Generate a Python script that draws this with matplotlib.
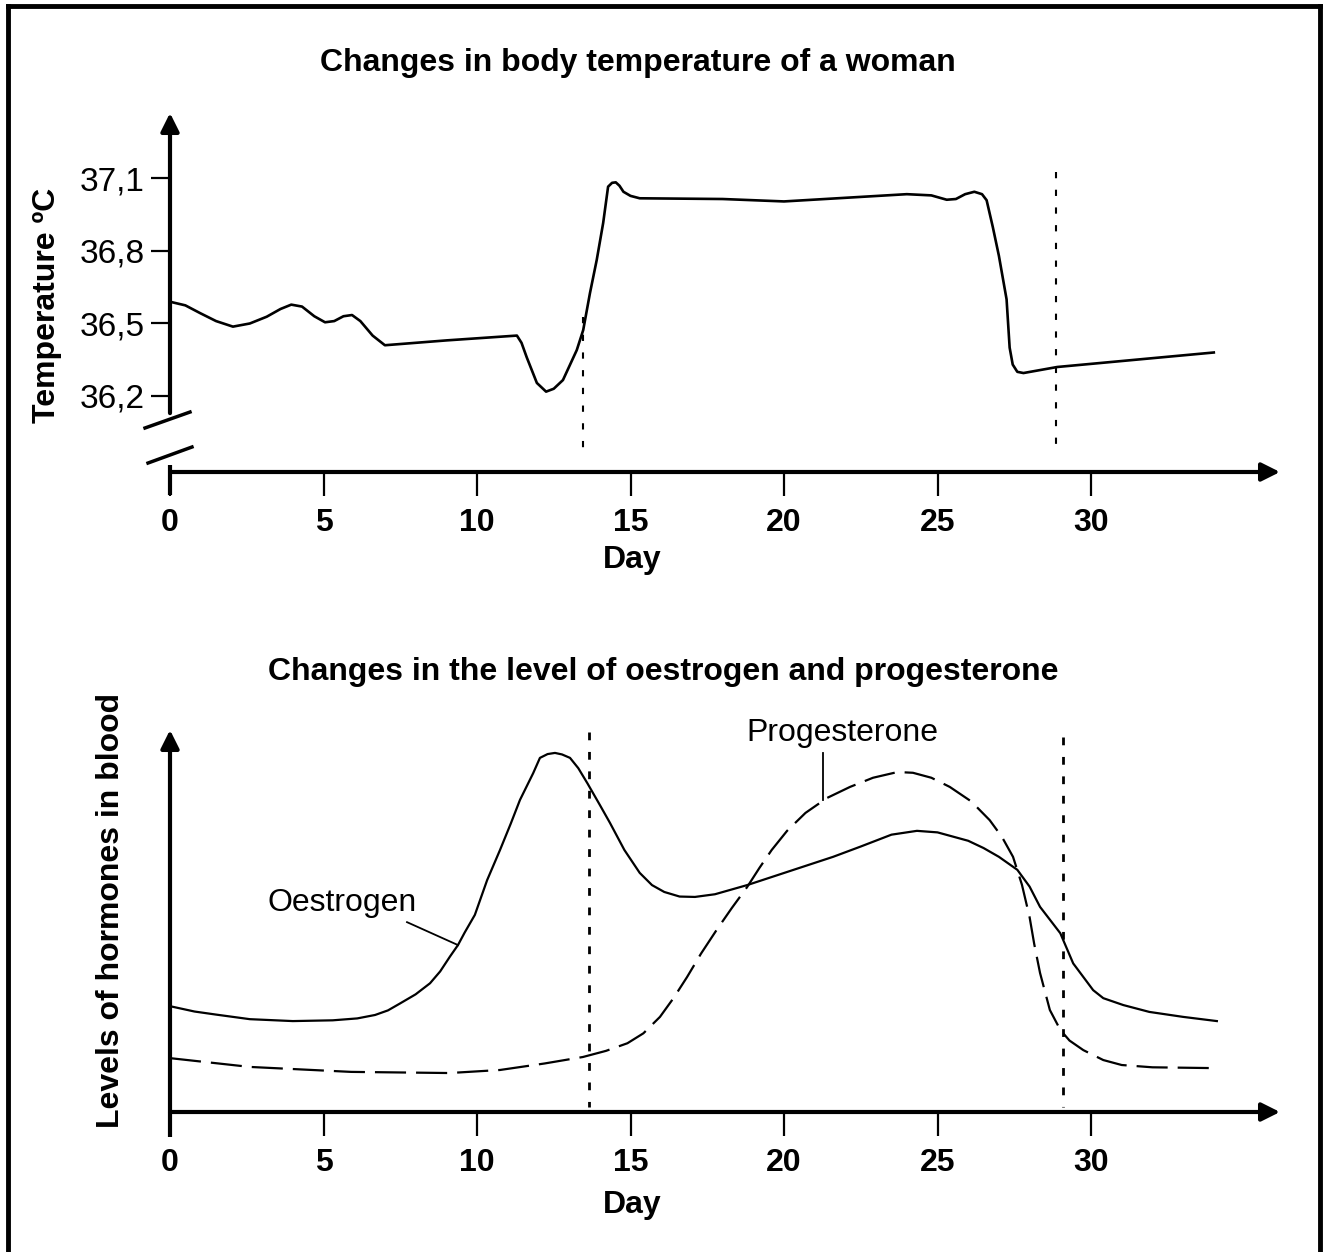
import numpy as np
import matplotlib.pyplot as plt
from matplotlib.lines import Line2D

plt.rcParams['font.family'] = ['Liberation Sans', 'DejaVu Sans']

# ---------------- data ----------------
# body temperature (day, degC)
temp_day = [0.0, 0.5, 0.98, 1.5, 2.05, 2.6, 3.15, 3.6, 3.95, 4.3, 4.7, 5.05, 5.35, 5.65,
            5.93, 6.2, 6.6, 7.0, 9.0, 11.3, 11.45, 11.62, 11.95, 12.25, 12.5, 12.8, 13.25,
            13.46, 13.68, 13.9, 14.11, 14.27, 14.4, 14.52, 14.64, 14.77, 15.0, 15.3, 18.0,
            20.0, 22.0, 24.0, 24.8, 25.3, 25.6, 25.9, 26.2, 26.45, 26.6, 26.8, 27.0, 27.25,
            27.35, 27.45, 27.6, 27.8, 28.9, 34.0]
temp_val = [36.59, 36.575, 36.543, 36.51, 36.487, 36.5, 36.528, 36.56, 36.578, 36.57,
            36.53, 36.505, 36.51, 36.53, 36.535, 36.51, 36.45, 36.41, 36.43, 36.45, 36.42,
            36.36, 36.254, 36.218, 36.23, 36.266, 36.39, 36.473, 36.626, 36.763, 36.916,
            37.066, 37.082, 37.084, 37.07, 37.045, 37.028, 37.018, 37.015, 37.005, 37.02,
            37.035, 37.03, 37.012, 37.015, 37.035, 37.045, 37.035, 37.01, 36.9, 36.78, 36.6,
            36.4, 36.33, 36.30, 36.295, 36.32, 36.38]
temp_ticks = [36.2, 36.5, 36.8, 37.1]
temp_ticklabels = ['36,2', '36,5', '36,8', '37,1']

# hormone levels (arbitrary units 0-100)
oes_day = [0.0, 0.8, 1.5, 2.6, 4.0, 5.3, 6.1, 6.68, 7.1, 7.49, 8.0, 8.47, 8.8, 9.12, 9.38,
           9.6, 9.93, 10.33, 10.75, 11.1, 11.4, 11.83, 12.05, 12.3, 12.54, 12.77, 13.03,
           13.3, 13.6, 14.0, 14.33, 14.8, 15.3, 15.7, 16.1, 16.6, 17.1, 17.75, 18.8, 21.6,
           22.5, 23.5, 24.33, 25.0, 26.0, 26.5, 27.0, 27.6, 28.0, 28.34, 29.0, 29.42, 30.07,
           30.4, 31.05, 31.9, 33.0, 34.1]
oes_val = [27.7, 26.3, 25.5, 24.3, 23.8, 24.0, 24.5, 25.4, 26.6, 28.4, 30.8, 33.7, 36.8,
           40.7, 43.7, 47.0, 51.6, 60.7, 68.6, 75.5, 81.7, 88.7, 92.7, 93.7, 94.0, 93.6,
           92.7, 90.0, 86.0, 80.4, 75.7, 68.6, 62.6, 59.4, 57.6, 56.4, 56.3, 57.0, 59.4, 66.8,
           69.5, 72.6, 73.6, 73.2, 71.0, 69.1, 66.8, 63.4, 59.0, 53.7, 46.8, 38.9, 31.9,
           29.8, 28.0, 26.2, 24.9, 23.8]
prog_day = [0.0, 2.6, 5.9, 9.1, 10.75, 12.2, 13.45, 14.2, 14.9, 15.42, 15.96, 16.4, 16.84,
            17.3, 17.8, 18.3, 18.8, 19.2, 19.6, 20.1, 20.7, 21.4, 22.15, 22.9, 23.7, 24.2,
            24.8, 25.4, 26.1, 26.7, 27.1, 27.46, 27.75, 28.0, 28.15, 28.34, 28.66, 29.0,
            29.3, 29.75, 30.4, 31.0, 32.0, 33.9]
prog_val = [14.1, 11.8, 10.5, 10.2, 11.0, 12.7, 14.4, 16.0, 18.0, 20.6, 24.9, 29.8, 35.3,
            41.5, 47.6, 53.4, 58.9, 63.9, 68.6, 73.6, 78.3, 82.2, 85.1, 87.5, 89.0, 88.8,
            87.5, 85.1, 81.3, 76.4, 72.0, 66.8, 59.5, 51.0, 44.0, 36.4, 26.7, 21.5, 18.7,
            16.2, 13.6, 12.3, 11.7, 11.5]

day_ticks = [0, 5, 10, 15, 20, 25, 30]

# dotted markers (ovulation / menstruation)
top_vline_day = [13.45, 28.86]
top_vline_from = [36.527, 37.127]
top_vline_to = [35.948, 35.997]
bot_vline_day = [13.65, 29.1]
bot_vline_from = [99.5, 98.2]
bot_vline_to = [1.3, 1.3]

# ---------------- figure ----------------
W, H = 1328, 1252
fig = plt.figure(figsize=(W / 100, H / 100), dpi=100)


def px_axes(left, right, top, bottom):
    return [left / W, 1 - bottom / H, (right - left) / W, (bottom - top) / H]


def fig_text(x, y, s, **kw):
    fig.text(x / W, 1 - y / H, s, **kw)


px_day = 30.7
arrow = dict(arrowstyle='-|>,head_length=1.1,head_width=0.55', lw=3,
             color='black', shrinkA=0, shrinkB=0)


def base_axis(ax):
    for s in ax.spines.values():
        s.set_visible(False)
    ax.set_xlim(0, 1110 / px_day)
    ax.set_xticks(day_ticks)
    ax.set_xticklabels([str(d) for d in day_ticks], fontsize=23, fontweight='bold')
    ax.tick_params(axis='x', direction='out', length=17, width=1.6, pad=9)
    ax.annotate('', xy=(1, 0), xytext=(0, 0), xycoords='axes fraction', arrowprops=arrow)


# ---- top panel: temperature ----
ax1 = fig.add_axes(px_axes(170, 1280, 113, 472))
px_deg = 241.7
ax1.set_ylim(36.2 - (472 - 396) / px_deg, 36.2 + (396 - 113) / px_deg)
base_axis(ax1)
ax1.set_yticks(temp_ticks)
ax1.set_yticklabels(temp_ticklabels, fontsize=24)
ax1.tick_params(axis='y', direction='out', length=14, width=1.6, pad=4)

# y axis with a break
ax1.annotate('', xy=(0, 1), xytext=(0, 0.164), xycoords='axes fraction', arrowprops=arrow)
ax1.add_line(Line2D([0, 0], [-0.064, 0.0195], transform=ax1.transAxes, color='black',
                    lw=3, clip_on=False, solid_capstyle='butt'))
ax1.add_line(Line2D([-0.0225, 0.018], [0.1226, 0.167], transform=ax1.transAxes,
                    color='black', lw=2.5, clip_on=False))
ax1.add_line(Line2D([-0.0198, 0.0198], [0.025, 0.0696], transform=ax1.transAxes,
                    color='black', lw=2.5, clip_on=False))

ax1.plot(temp_day, temp_val, color='black', lw=1.9, solid_joinstyle='round')
for d, a, b in zip(top_vline_day, top_vline_from, top_vline_to):
    ax1.plot([d, d], [a, b], color='black', lw=1.5, dashes=(3, 5.5))

# ---- bottom panel: hormones ----
ax2 = fig.add_axes(px_axes(170, 1280, 730, 1112))
ax2.set_ylim(0, 100)
base_axis(ax2)
ax2.set_yticks([])
ax2.annotate('', xy=(0, 1), xytext=(0, 0), xycoords='axes fraction', arrowprops=arrow)
ax2.add_line(Line2D([0, 0], [-0.065, 0.0], transform=ax2.transAxes, color='black',
                    lw=3, clip_on=False, solid_capstyle='butt'))

ax2.plot(oes_day, oes_val, color='black', lw=1.6, solid_joinstyle='round')
ax2.plot(prog_day, prog_val, color='black', lw=1.6, dashes=(14, 4.5))
for d, a, b in zip(bot_vline_day, bot_vline_from, bot_vline_to):
    ax2.plot([d, d], [a, b], color='black', lw=2, dashes=(2.8, 4.2))

# curve labels with leader lines
ax2.text(3.19, 54.7, 'Oestrogen', fontsize=23, ha='left', va='center')
ax2.plot([7.72, 9.38], [49.7, 43.7], color='black', lw=1.3)
ax2.text(21.9, 99.2, 'Progesterone', fontsize=23, ha='center', va='center')
ax2.plot([21.27, 21.27], [94.0, 81.7], color='black', lw=1.3)

# ---- titles and axis labels ----
fig_text(638, 63, 'Changes in body temperature of a woman', fontsize=23,
         fontweight='bold', ha='center', va='center')
fig_text(663, 672, 'Changes in the level of oestrogen and progesterone', fontsize=23,
         fontweight='bold', ha='center', va='center')
fig_text(632, 560, 'Day', fontsize=23, fontweight='bold', ha='center', va='center')
fig_text(632, 1205, 'Day', fontsize=23, fontweight='bold', ha='center', va='center')
fig_text(47, 305, 'Temperature ºC', fontsize=23, fontweight='bold', rotation=90,
         ha='center', va='center')
fig_text(111, 910, 'Levels of hormones in blood', fontsize=23, fontweight='bold',
         rotation=90, ha='center', va='center')

# outer frame (open at the bottom)
for xs, ys in [([8, 8], [6, H]), ([1320, 1320], [6, H]), ([8, 1320], [6, 6])]:
    fig.add_artist(Line2D([x / W for x in xs], [1 - y / H for y in ys], color='black',
                          lw=3.5, transform=fig.transFigure))

fig.savefig('out.png', dpi=100)
